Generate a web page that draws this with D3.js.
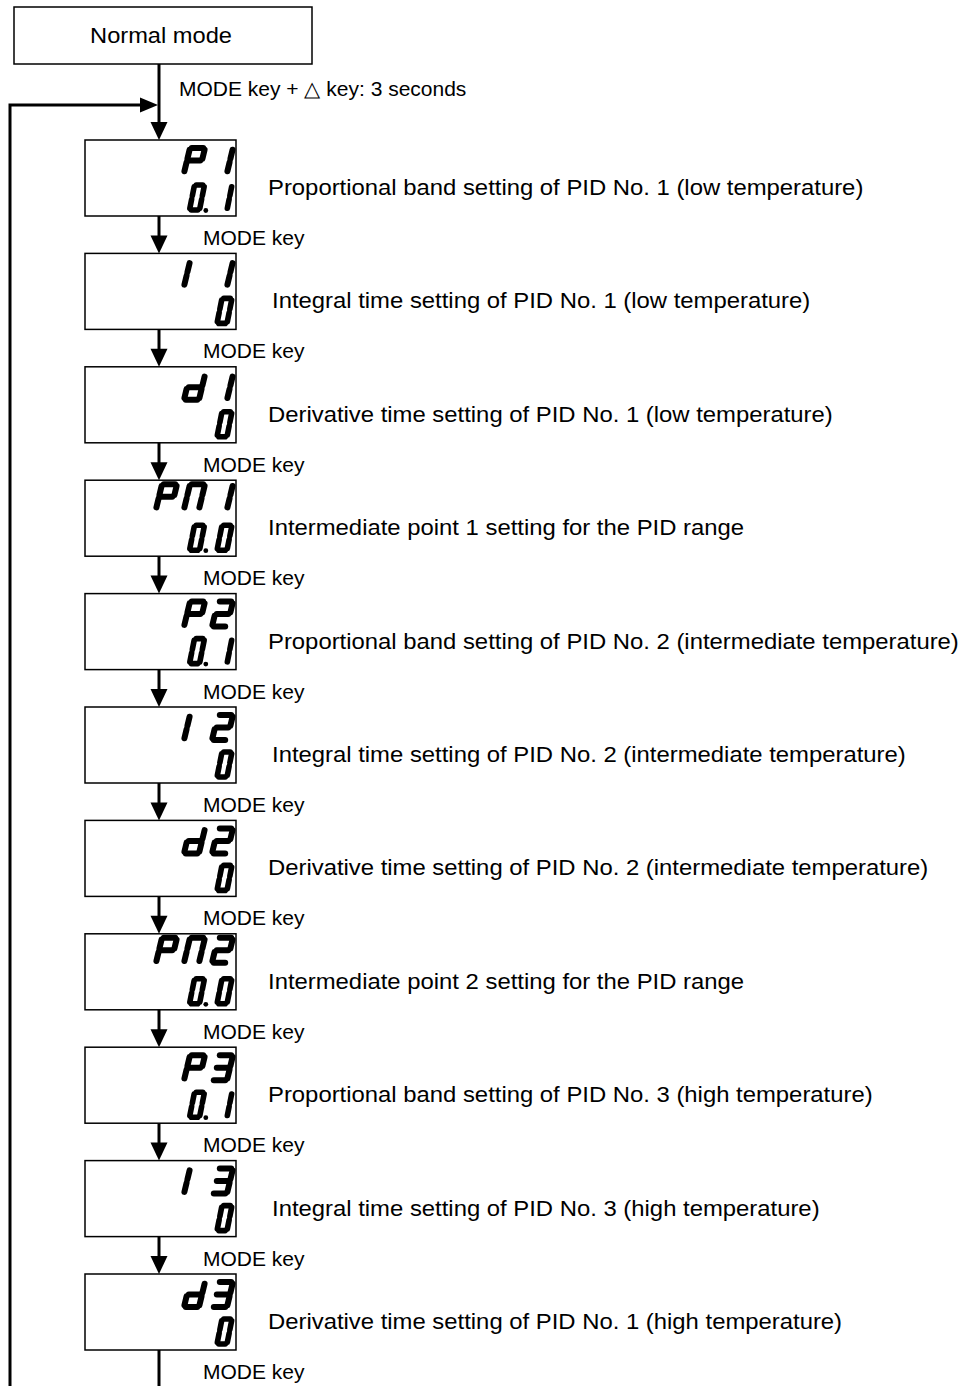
<!DOCTYPE html>
<html>
<head>
<meta charset="utf-8">
<script src="https://cdn.jsdelivr.net/npm/d3@7"></script>
<style>
  body { margin: 0; background: #fff; }
  text { font-family: "Liberation Sans", Arial, sans-serif; fill: #000; }
</style>
</head>
<body>
<script>
// flow data
var startLabel = "Normal mode";
var entryLabel = "MODE key + \u25B3 key: 3 seconds";
var stepLabel = "MODE key";
var topCodes = ["P1", "I1", "d1", "PN1", "P2", "I2", "d2", "PN2", "P3", "I3", "d3"];
var bottomValues = ["0.1", "0", "0", "0.0", "0.1", "0", "0", "0.0", "0.1", "0", "0"];
var descriptions = [
  "Proportional band setting of PID No. 1 (low temperature)",
  "Integral time setting of PID No. 1 (low temperature)",
  "Derivative time setting of PID No. 1 (low temperature)",
  "Intermediate point 1 setting for the PID range",
  "Proportional band setting of PID No. 2 (intermediate temperature)",
  "Integral time setting of PID No. 2 (intermediate temperature)",
  "Derivative time setting of PID No. 2 (intermediate temperature)",
  "Intermediate point 2 setting for the PID range",
  "Proportional band setting of PID No. 3 (high temperature)",
  "Integral time setting of PID No. 3 (high temperature)",
  "Derivative time setting of PID No. 1 (high temperature)"
];

var width = 965, height = 1386;
var svg = d3.select("body").append("svg")
    .attr("width", width)
    .attr("height", height);

var y = d3.scaleLinear().domain([0, topCodes.length - 1]).range([140, 1274]);
var boxX = 85, boxW = 151, boxH = 76, lineX = 159;

// 7 segment bits
var SEGS = {
  a: [[0, 1], [1, 1]], b: [[1, 1], [1, .5]], c: [[1, .5], [1, 0]],
  d: [[0, 0], [1, 0]], e: [[0, .5], [0, 0]], f: [[0, 1], [0, .5]],
  g: [[0, .5], [1, .5]]
};
var CHARS = {P: "abefg", "1": "bc", I: "ef", d: "bcdeg", "2": "abdeg",
             "3": "abcdg", N: "abcef", "0": "abcdef"};

function drawDisplay(g, str, o) {
  // split into cells, dots belong to the cell before
  var cells = [];
  str.split("").forEach(function(c) {
    if (c === ".") cells[cells.length - 1].dot = true;
    else cells.push({ch: c, dot: false});
  });
  var n = cells.length;
  cells.forEach(function(cell, i) {
    var left = o.right - o.skew - o.w - (n - 1 - i) * o.pitch;
    var pt = function(u, v) {
      return [left + u * o.w + o.skew * v, o.bottom - v * o.h];
    };
    CHARS[cell.ch].split("").forEach(function(s) {
      var p0 = pt(SEGS[s][0][0], SEGS[s][0][1]), p1 = pt(SEGS[s][1][0], SEGS[s][1][1]);
      var dx = p1[0] - p0[0], dy = p1[1] - p0[1], len = Math.sqrt(dx * dx + dy * dy);
      var k = o.gap / len;
      g.append("line")
        .attr("x1", p0[0] + dx * k).attr("y1", p0[1] + dy * k)
        .attr("x2", p1[0] - dx * k).attr("y2", p1[1] - dy * k)
        .attr("stroke", "#000")
        .attr("stroke-width", o.sw)
        .attr("stroke-linecap", "round");
    });
    if (cell.dot) {
      g.append("circle")
        .attr("cx", left + o.w + o.sw / 2 + 3.5)
        .attr("cy", o.bottom + 0.5)
        .attr("r", 2.4)
        .attr("fill", "#000");
    }
  });
}

function downArrow(x, y1, y2) {
  svg.append("line")
    .attr("x1", x).attr("x2", x).attr("y1", y1).attr("y2", y2 - 16)
    .attr("stroke", "#000").attr("stroke-width", 3);
  svg.append("path")
    .attr("d", d3.line()([[x - 8.5, y2 - 18], [x + 8.5, y2 - 18], [x, y2]]) + "Z")
    .attr("fill", "#000");
}

// start box
svg.append("rect")
  .attr("x", 14).attr("y", 7).attr("width", 298).attr("height", 57)
  .attr("fill", "none").attr("stroke", "#000").attr("stroke-width", 1.5);
svg.append("text")
  .attr("transform", "translate(161,43) scale(1.1,1)")
  .attr("text-anchor", "middle")
  .style("font-size", "21.5px")
  .text(startLabel);

downArrow(lineX, 64, y(0));
svg.append("text")
  .attr("x", 179).attr("y", 96)
  .style("font-size", "21px")
  .text(entryLabel);

// loop back line
svg.append("path")
  .attr("d", "M10," + height + "V105H142")
  .attr("fill", "none").attr("stroke", "#000").attr("stroke-width", 3);
svg.append("path")
  .attr("d", d3.line()([[140, 97.5], [140, 112.5], [158, 105]]) + "Z")
  .attr("fill", "#000");

topCodes.forEach(function(code, i) {
  var top = y(i);
  var g = svg.append("g");
  g.append("rect")
    .attr("x", boxX).attr("y", top).attr("width", boxW).attr("height", boxH)
    .attr("fill", "#fff").attr("stroke", "#000").attr("stroke-width", 1.5);

  var shift = code.length > 2 ? -4 : 0;
  drawDisplay(g, code, {right: 233, bottom: top + 33 + shift, h: 25, w: 15,
                        skew: 6, pitch: 28, sw: 6, gap: 1.8});
  drawDisplay(g, bottomValues[i], {right: 232, bottom: top + 70, h: 25, w: 10,
                                   skew: 5, pitch: 27.5, sw: 5.6, gap: 1.8});

  var tx = descriptions[i].indexOf("Integral") === 0 ? 272 : 268;
  svg.append("text")
    .attr("transform", "translate(" + tx + "," + (top + 55) + ") scale(1.11,1)")
    .style("font-size", "21.5px")
    .text(descriptions[i]);

  svg.append("text")
    .attr("x", 203).attr("y", top + boxH + 29)
    .style("font-size", "21px")
    .text(stepLabel);

  if (i < topCodes.length - 1) {
    downArrow(lineX, top + boxH, y(i + 1));
  } else {
    svg.append("line")
      .attr("x1", lineX).attr("x2", lineX).attr("y1", top + boxH).attr("y2", height)
      .attr("stroke", "#000").attr("stroke-width", 3);
  }
});
</script>
</body>
</html>
